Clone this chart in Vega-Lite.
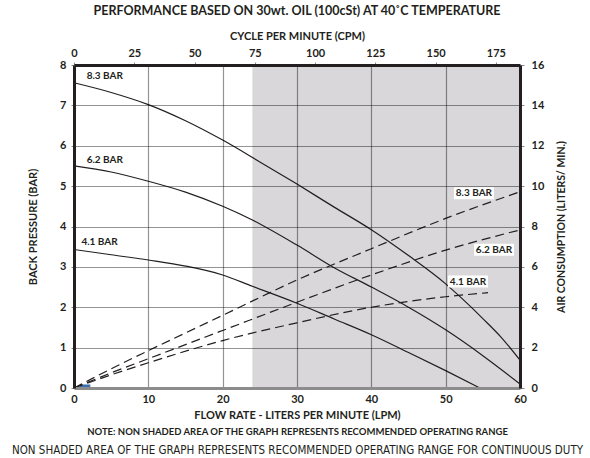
{
  "$schema": "https://vega.github.io/schema/vega-lite/v6.json",
  "width": 446,
  "height": 323,
  "autosize": "none",
  "padding": {"left": 74, "top": 65, "right": 70, "bottom": 70},
  "background": "white",
  "title": {"text": "PERFORMANCE BASED ON 30wt. OIL (100cSt) AT 40˚C TEMPERATURE", "fontSize": 12.5, "font": "Lato", "fontWeight": "bold", "color": "#231f20", "offset": 13, "anchor": "middle"},
  "config": {
    "view": {"stroke": null},
    "font": "Lato",
    "axis": {"labelColor": "#231f20", "titleColor": "#231f20", "labelFont": "Lato", "titleFont": "Lato"}
  },
  "datasets": {
    "shade": [{"from": 24, "to": 60}],
    "solid": [
      {"series": "8.3", "lpm": 0, "bar": 7.56}, {"series": "8.3", "lpm": 5, "bar": 7.32}, {"series": "8.3", "lpm": 10, "bar": 7.02}, {"series": "8.3", "lpm": 15, "bar": 6.62}, {"series": "8.3", "lpm": 20, "bar": 6.14}, {"series": "8.3", "lpm": 25, "bar": 5.6}, {"series": "8.3", "lpm": 30, "bar": 5.05}, {"series": "8.3", "lpm": 35, "bar": 4.48}, {"series": "8.3", "lpm": 40, "bar": 3.92}, {"series": "8.3", "lpm": 45, "bar": 3.28}, {"series": "8.3", "lpm": 50, "bar": 2.58}, {"series": "8.3", "lpm": 52, "bar": 2.25}, {"series": "8.3", "lpm": 55, "bar": 1.72}, {"series": "8.3", "lpm": 57.5, "bar": 1.25}, {"series": "8.3", "lpm": 60, "bar": 0.69},
      {"series": "6.2", "lpm": 0, "bar": 5.5}, {"series": "6.2", "lpm": 5, "bar": 5.35}, {"series": "6.2", "lpm": 10, "bar": 5.12}, {"series": "6.2", "lpm": 15, "bar": 4.85}, {"series": "6.2", "lpm": 20, "bar": 4.5}, {"series": "6.2", "lpm": 24, "bar": 4.16}, {"series": "6.2", "lpm": 30, "bar": 3.54}, {"series": "6.2", "lpm": 35, "bar": 2.98}, {"series": "6.2", "lpm": 40, "bar": 2.5}, {"series": "6.2", "lpm": 45, "bar": 2.0}, {"series": "6.2", "lpm": 50, "bar": 1.44}, {"series": "6.2", "lpm": 55, "bar": 0.8}, {"series": "6.2", "lpm": 60, "bar": 0.1},
      {"series": "4.1", "lpm": 0, "bar": 3.43}, {"series": "4.1", "lpm": 5, "bar": 3.3}, {"series": "4.1", "lpm": 10, "bar": 3.17}, {"series": "4.1", "lpm": 15, "bar": 3.02}, {"series": "4.1", "lpm": 20, "bar": 2.8}, {"series": "4.1", "lpm": 24, "bar": 2.52}, {"series": "4.1", "lpm": 30, "bar": 2.1}, {"series": "4.1", "lpm": 35, "bar": 1.71}, {"series": "4.1", "lpm": 40, "bar": 1.32}, {"series": "4.1", "lpm": 45, "bar": 0.88}, {"series": "4.1", "lpm": 50, "bar": 0.43}, {"series": "4.1", "lpm": 54.6, "bar": 0}
    ],
    "solidLabels": [
      {"label": "8.3 BAR", "lpm": 1.7, "bar": 7.73},
      {"label": "6.2 BAR", "lpm": 1.7, "bar": 5.64},
      {"label": "4.1 BAR", "lpm": 1.0, "bar": 3.62}
    ],
    "blue": [{"from": 0.8, "to": 2.2}],
    "dashed": [
      {"series": "8.3", "lpm": 0, "air": 0}, {"series": "8.3", "lpm": 5, "air": 0.95}, {"series": "8.3", "lpm": 10, "air": 1.85}, {"series": "8.3", "lpm": 20, "air": 3.6}, {"series": "8.3", "lpm": 30, "air": 5.35}, {"series": "8.3", "lpm": 40, "air": 6.9}, {"series": "8.3", "lpm": 50, "air": 8.4}, {"series": "8.3", "lpm": 60, "air": 9.72},
      {"series": "6.2", "lpm": 0, "air": 0}, {"series": "6.2", "lpm": 5, "air": 0.75}, {"series": "6.2", "lpm": 10, "air": 1.45}, {"series": "6.2", "lpm": 20, "air": 2.85}, {"series": "6.2", "lpm": 30, "air": 4.25}, {"series": "6.2", "lpm": 40, "air": 5.6}, {"series": "6.2", "lpm": 50, "air": 6.83}, {"series": "6.2", "lpm": 60, "air": 7.83},
      {"series": "4.1", "lpm": 0, "air": 0}, {"series": "4.1", "lpm": 5, "air": 0.65}, {"series": "4.1", "lpm": 10, "air": 1.25}, {"series": "4.1", "lpm": 20, "air": 2.35}, {"series": "4.1", "lpm": 30, "air": 3.23}, {"series": "4.1", "lpm": 40, "air": 4.0}, {"series": "4.1", "lpm": 50, "air": 4.52}, {"series": "4.1", "lpm": 55.7, "air": 4.72}
    ],
    "dashedLabels": [
      {"label": "8.3 BAR", "lpm": 53.8, "air": 9.65},
      {"label": "6.2 BAR", "lpm": 56.5, "air": 6.85},
      {"label": "4.1 BAR", "lpm": 53.0, "air": 5.27}
    ],
    "cpm": [{"cpm": 0}, {"cpm": 175}]
  },
  "layer": [
    {
      "data": {"name": "shade"},
      "mark": {"type": "rect", "color": "#d9d7d9"},
      "encoding": {
        "x": {"field": "from", "type": "quantitative", "scale": {"domain": [0, 60], "nice": false, "zero": false},
          "axis": {"orient": "bottom", "values": [0, 10, 20, 30, 40, 50, 60], "grid": true, "gridColor": "#000000", "gridOpacity": 0.42, "gridWidth": 1.2, "domainColor": "#8c8c8c", "domainWidth": 3, "ticks": false, "labelFontSize": 11, "labelFontWeight": "bold", "labelPadding": 5, "labelFlush": false, "title": "FLOW RATE - LITERS PER MINUTE (LPM)", "titleFontSize": 11, "titleFontWeight": "bold", "titlePadding": 5, "zindex": 1}},
        "x2": {"field": "to"}
      }
    },
    {
      "layer": [
        {
          "data": {"name": "solid"},
          "mark": {"type": "line", "interpolate": "monotone", "color": "#231f20", "strokeWidth": 1.2},
          "encoding": {
            "x": {"field": "lpm", "type": "quantitative", "scale": {"domain": [0, 60], "nice": false},
              "axis": {"orient": "bottom", "labels": false, "ticks": false, "domain": false, "grid": false, "title": "NOTE: NON SHADED AREA OF THE GRAPH REPRESENTS RECOMMENDED OPERATING RANGE", "titleFontSize": 9.5, "titleFontWeight": "bold", "titlePadding": 38}},
            "y": {"field": "bar", "type": "quantitative", "scale": {"domain": [0, 8], "nice": false},
              "axis": {"orient": "left", "values": [0, 1, 2, 3, 4, 5, 6, 7, 8], "grid": true, "gridColor": "#000000", "gridOpacity": 0.42, "gridWidth": 1.2, "domainColor": "#231f20", "domainWidth": 3, "tickSize": 3, "tickColor": "#888888", "labelFontSize": 11, "labelFontWeight": "bold", "labelPadding": 5, "title": "BACK PRESSURE (BAR)", "titleFontSize": 11, "titleFontWeight": "bold", "titlePadding": 21, "zindex": 1}},
            "detail": {"field": "series"}
          }
        },
        {
          "data": {"name": "solidLabels"},
          "mark": {"type": "text", "align": "left", "baseline": "middle", "fontWeight": "bold", "fontSize": 10, "font": "Lato", "color": "#231f20"},
          "encoding": {
            "x": {"field": "lpm", "type": "quantitative"},
            "y": {"field": "bar", "type": "quantitative"},
            "text": {"field": "label"}
          }
        },
        {
          "data": {"name": "blue"},
          "mark": {"type": "rule", "color": "#3d6fb0", "strokeWidth": 3},
          "encoding": {
            "x": {"field": "from", "type": "quantitative"},
            "x2": {"field": "to"},
            "y": {"datum": 0.05}
          }
        }
      ]
    },
    {
      "layer": [
        {
          "data": {"name": "dashed"},
          "mark": {"type": "line", "interpolate": "monotone", "strokeDash": [9, 5], "color": "#231f20", "strokeWidth": 1.2},
          "encoding": {
            "x": {"field": "lpm", "type": "quantitative", "scale": {"domain": [0, 60], "nice": false},
              "axis": {"orient": "bottom", "labels": false, "ticks": false, "domain": false, "grid": false, "title": "NON SHADED AREA OF THE GRAPH REPRESENTS RECOMMENDED OPERATING RANGE FOR CONTINUOUS DUTY", "titleFont": "Noto Sans ExtraCondensed, DejaVu Sans Condensed, sans-serif", "titleFontWeight": "normal", "titleFontSize": 11.5, "titlePadding": 56}},
            "y": {"field": "air", "type": "quantitative", "scale": {"domain": [0, 16], "nice": false},
              "axis": {"orient": "right", "values": [0, 2, 4, 6, 8, 10, 12, 14, 16], "grid": false, "domainColor": "#231f20", "domainWidth": 3, "tickSize": 4, "tickColor": "#888888", "labelFontSize": 11, "labelFontWeight": "bold", "labelPadding": 7, "title": "AIR CONSUMPTION (LITERS/ MIN.)", "titleAngle": 270, "titleFontSize": 10.5, "titleFontWeight": "bold", "titlePadding": 23, "zindex": 1}},
            "detail": {"field": "series"}
          }
        },
        {
          "data": {"name": "dashedLabels"},
          "mark": {"type": "point", "shape": "M-1,-0.3H1V0.3H-1Z", "size": 1600, "filled": true, "color": "white", "opacity": 1},
          "encoding": {
            "x": {"field": "lpm", "type": "quantitative"},
            "y": {"field": "air", "type": "quantitative"}
          }
        },
        {
          "data": {"name": "dashedLabels"},
          "mark": {"type": "text", "align": "center", "baseline": "middle", "fontWeight": "bold", "fontSize": 10, "font": "Lato", "color": "#231f20"},
          "encoding": {
            "x": {"field": "lpm", "type": "quantitative"},
            "y": {"field": "air", "type": "quantitative"},
            "text": {"field": "label"}
          }
        }
      ]
    },
    {
      "data": {"name": "cpm"},
      "mark": {"type": "point", "opacity": 0},
      "encoding": {
        "x": {"field": "cpm", "type": "quantitative", "scale": {"domain": [0, 185], "nice": false},
          "axis": {"orient": "top", "values": [0, 25, 50, 75, 100, 125, 150, 175], "grid": false, "domainColor": "#231f20", "domainWidth": 3, "tickSize": 3, "tickColor": "#888888", "labelFontSize": 11, "labelFontWeight": "bold", "labelPadding": 4, "labelFlush": false, "title": "CYCLE PER MINUTE (CPM)", "titleFontSize": 11, "titleFontWeight": "bold", "titlePadding": 6, "zindex": 1}}
      }
    }
  ],
  "resolve": {"scale": {"x": "independent", "y": "independent"}}
}
